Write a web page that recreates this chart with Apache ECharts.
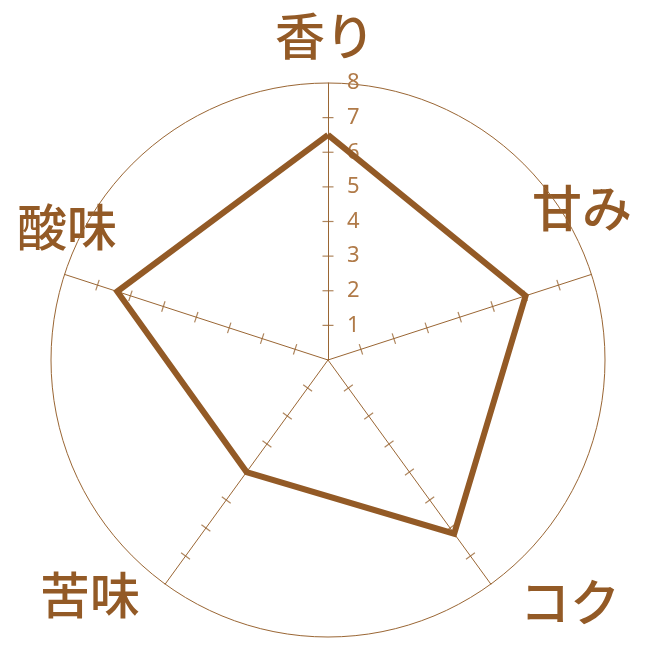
<!DOCTYPE html>
<html>
<head>
<meta charset="utf-8">
<script src="https://cdn.jsdelivr.net/npm/echarts@6/dist/echarts.min.js"></script>
<style>
  html, body { margin: 0; padding: 0; background: #fff; }
  #chart { width: 650px; height: 650px; }
</style>
</head>
<body>
<div id="chart"></div>
<script>
// 評価項目（ECharts のレーダーは反時計回りなので、上から左回りに並べる）
const categories = ['香り', '酸味', '苦味', 'コク', '甘み'];
const scores = [6.5, 6.4, 4, 6.2, 6];
const maxScore = 8;
const tickLabels = ['1', '2', '3', '4', '5', '6', '7', '8'];
const tickValues = [1, 2, 3, 4, 5, 6, 7];

const brown = '#935a26';
const axisBrown = '#9a6634';
const labelBrown = '#b07a48';

const chart = echarts.init(document.getElementById('chart'));

// 外周の円だけ描く（内側の目盛り円は透明）
const ringColors = [];
for (let i = 0; i <= maxScore; i++) {
  ringColors.push(i === maxScore ? axisBrown : 'rgba(0,0,0,0)');
}

const indicator = categories.map(function (name, i) {
  return { name: name, min: 0, max: maxScore, axisLabel: { show: i === 0 } };
});

// 軸を横切る目盛り（極座標上の細い矩形）
const tickMarks = [];
categories.forEach(function (name, i) {
  const ang = (360 - 72 * i) % 360;
  tickValues.forEach(function (v) {
    tickMarks.push({ value: [v, ang], symbolRotate: 180 - ang });
  });
});

const center = [328, 360];
const R = 277;

// カテゴリ名の位置
const namePos = [[325, 36], [67, 227], [90, 595], [570, 602], [582, 208]];

const option = {
  backgroundColor: '#fff',
  radar: {
    center: center,
    radius: R,
    startAngle: 90,
    shape: 'circle',
    splitNumber: maxScore,
    axisName: { show: false },
    splitArea: { show: false },
    indicator: indicator,
    axisLine: { lineStyle: { color: axisBrown, width: 1 } },
    splitLine: { show: true, lineStyle: { color: ringColors, width: 1 } },
    axisTick: { show: false },
    axisLabel: {
      show: false,
      showMinLabel: false,
      color: labelBrown,
      fontSize: 22,
      fontFamily: 'Noto Sans',
      align: 'left',
      margin: -19,
      formatter: function (v) { return tickLabels[v - 1] || ''; }
    }
  },
  polar: { center: center, radius: R },
  radiusAxis: { min: 0, max: maxScore, show: false },
  angleAxis: { min: 0, max: 360, startAngle: 90, clockwise: true, show: false },
  graphic: categories.map(function (name, i) {
    return {
      type: 'text',
      x: namePos[i][0],
      y: namePos[i][1],
      style: {
        text: name,
        fill: brown,
        font: '500 50px "Noto Sans CJK JP"',
        textAlign: 'center',
        textVerticalAlign: 'middle'
      }
    };
  }),
  series: [
    {
      type: 'scatter',
      coordinateSystem: 'polar',
      symbol: 'rect',
      symbolSize: [11, 1.2],
      itemStyle: { color: axisBrown },
      silent: true,
      z: 1,
      data: tickMarks
    },
    {
      type: 'radar',
      symbol: 'none',
      lineStyle: { color: brown, width: 6, join: 'miter' },
      z: 3,
      data: [{ value: scores, name: '評価' }]
    }
  ]
};

chart.setOption(option);
</script>
</body>
</html>
